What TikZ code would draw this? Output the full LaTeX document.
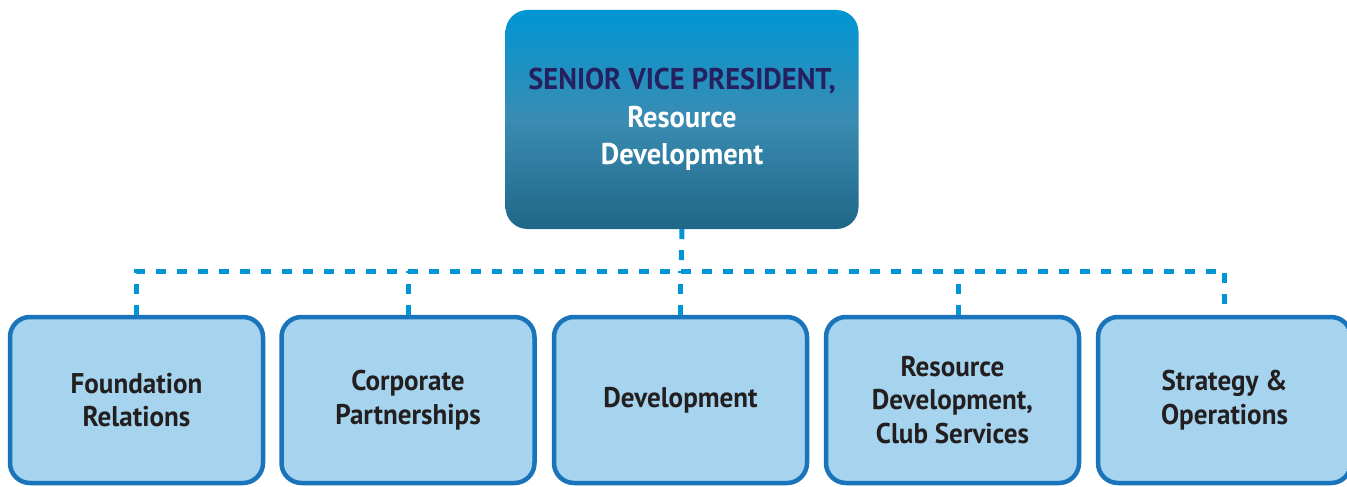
\documentclass[tikz,border=0pt]{standalone}
\usepackage{fontspec}
\setmainfont{PT Sans}[FakeStretch=0.95]
\usetikzlibrary{calc}
\definecolor{SkyTop}{HTML}{0096D3}
\definecolor{SkyMid}{HTML}{3A8CB2}
\definecolor{SkyBot}{HTML}{1F6787}
\definecolor{Navy}{HTML}{25205F}
\definecolor{BoxFill}{HTML}{A6D4EE}
\definecolor{BoxLine}{HTML}{1A74BC}
\definecolor{LinkBlue}{HTML}{0096D6}
\definecolor{InkDark}{HTML}{231F20}

\tikzset{
  unit/.style={rectangle, rounded corners=20pt, draw=BoxLine, line width=4.5pt, fill=BoxFill,
    minimum width=253pt, minimum height=166pt, align=center, text=InkDark,
    font=\fontsize{28.5}{33.5}\selectfont\bfseries},
  head/.style={rectangle, rounded corners=22pt, minimum width=353pt, minimum height=219pt,
    top color=SkyTop, bottom color=SkyBot, middle color=SkyMid, align=center, text=white,
    font=\fontsize{30}{37.5}\selectfont\bfseries}
}
\tikzset{link/.style={LinkBlue, line width=5pt, dash pattern=on 10pt off 11pt}}

\begin{document}
\begin{tikzpicture}[x=1pt, y=-1pt]
\useasboundingbox (0,0) rectangle (1347,487);
\node[head] (svp) at (682,119.5) {{\color{Navy}SENIOR VICE PRESIDENT,}\\Resource\\Development};
\node[unit] (found) at (136.5,400) {Foundation\\Relations};
\node[unit] (corp) at (408,400) {Corporate\\Partnerships};
\node[unit] (dev) at (680.5,400) {Development};
\node[unit] (club) at (952.5,400) {Resource\\Development,\\Club Services};
\node[unit] (strat) at (1224.5,400) {Strategy \&\\Operations};
\coordinate (bus) at (681,271);
\draw[link] (svp.south) -- (bus);
\draw[link] (found.north) |- (bus) -| (strat.north);
\draw[link] (corp.north) -- (corp.north |- bus);
\draw[link] (dev.north) -- (dev.north |- bus);
\draw[link] ([xshift=6pt]club.north) -- ([xshift=6pt]club.north |- bus);
\end{tikzpicture}
\end{document}
